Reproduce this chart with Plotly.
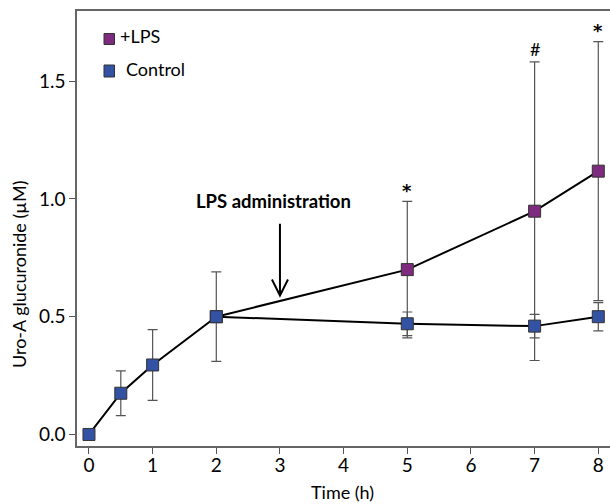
import plotly.graph_objects as go

# ---- data ----
time_ctrl = [0, 0.5, 1, 2, 5, 7, 8]
ctrl_mean = [0.0, 0.175, 0.295, 0.50, 0.47, 0.46, 0.50]
ctrl_err = [0.0, 0.095, 0.15, 0.19, 0.05, 0.05, 0.06]

time_lps = [2, 5, 7, 8]
lps_mean = [0.50, 0.70, 0.948, 1.118]
lps_err = [0.0, 0.29, 0.634, 0.55]

sig_x = [5, 7, 8]
sig_text = ["*", "#", "*"]
sig_y = [0.99, 1.582, 1.67]

x_ticks = [0, 1, 2, 3, 4, 5, 6, 7, 8]
y_ticks = [0.0, 0.5, 1.0, 1.5]

PURPLE = "#7E2A7E"
BLUE = "#3352A4"
FONT = "Lato, Open Sans, sans-serif"

W, H = 610, 504
ML, MR, MT, MB = 77, 0, 11, 58
PW, PH = W - ML - MR, H - MT - MB


def px(xp):
    return (xp - ML) / PW


def py(yp):
    return (H - MB - yp) / PH


fig = go.Figure()

fig.add_trace(go.Scatter(
    x=time_lps, y=lps_mean, mode="lines+markers", name="+LPS",
    line=dict(color="black", width=2),
    marker=dict(symbol="square", size=12, color=PURPLE,
                line=dict(color="#333333", width=1)),
    error_y=dict(type="data", array=lps_err, visible=True,
                 color="#555555", thickness=1.2, width=5),
    showlegend=False, cliponaxis=False,
))
fig.add_trace(go.Scatter(
    x=time_ctrl, y=ctrl_mean, mode="lines+markers", name="Control",
    line=dict(color="black", width=2),
    marker=dict(symbol="square", size=12, color=BLUE,
                line=dict(color="#333333", width=1)),
    error_y=dict(type="data", array=ctrl_err, visible=True,
                 color="#555555", thickness=1.2, width=5),
    showlegend=False, cliponaxis=False,
))

annotations = []
for sx, st, sy in zip(sig_x, sig_text, sig_y):
    if st == "#":
        fnt = dict(family=FONT, size=18, color="black")
        ys = 0
    else:
        fnt = dict(family="DejaVu Sans", size=18, color="black")
        ys = -2
    annotations.append(dict(
        x=sx, y=sy, text="<b>%s</b>" % st if st == "*" else st,
        showarrow=False, xref="x", yref="y",
        yanchor="bottom", yshift=ys, font=fnt,
    ))

# LPS administration label
annotations.append(dict(
    x=2.893, y=0.993, xref="x", yref="y", text="<b>LPS administration</b>",
    showarrow=False, font=dict(family=FONT, size=18.5, color="black"),
))

# y-axis title
annotations.append(dict(
    x=px(19), y=py(275), xref="paper", yref="paper",
    xanchor="center", yanchor="middle",
    text="Uro-A\u00a0glucuronide (\u00b5M)", textangle=-90, showarrow=False,
    font=dict(family=FONT, size=18, color="black"),
))

# legend texts
annotations.append(dict(
    x=px(118), y=py(36), xref="paper", yref="paper", text="+LPS",
    xanchor="left", yanchor="middle", showarrow=False,
    font=dict(family=FONT, size=18, color="black"),
))
annotations.append(dict(
    x=px(124), y=py(68.5), xref="paper", yref="paper", text="Control",
    xanchor="left", yanchor="middle", showarrow=False,
    font=dict(family=FONT, size=18, color="black"),
))

# x-axis title
annotations.append(dict(
    x=px(342), y=py(492), xref="paper", yref="paper", text="Time (h)",
    xanchor="center", yanchor="middle",
    showarrow=False, font=dict(family=FONT, size=18, color="black"),
))

shapes = [
    # arrow
    dict(type="path", xref="x", yref="y",
         path="M3,0.895 L3,0.59 M2.874,0.658 L3,0.59 L3.126,0.658",
         line=dict(color="black", width=2)),
    # legend squares
    dict(type="rect", xref="paper", yref="paper",
         x0=px(104), x1=px(114.5), y0=py(44.5), y1=py(33.5),
         fillcolor=PURPLE, line=dict(color="#333333", width=1)),
    dict(type="rect", xref="paper", yref="paper",
         x0=px(104), x1=px(114.5), y0=py(77), y1=py(65),
         fillcolor=BLUE, line=dict(color="#333333", width=1)),
]

fig.update_layout(
    width=W, height=H,
    margin=dict(l=ML, r=MR, t=MT, b=MB, autoexpand=False),
    paper_bgcolor="white", plot_bgcolor="white",
    font=dict(family=FONT, size=18, color="black"),
    annotations=annotations, shapes=shapes,
    xaxis=dict(
        range=[-0.188, 8.184], tickvals=x_ticks, automargin=False,
        showgrid=False, zeroline=False,
        showline=True, linecolor="#666666", linewidth=1.5, mirror=True,
        ticks="outside", ticklen=6, tickwidth=1.3, tickcolor="#555555",
        tickfont=dict(family=FONT, size=19, color="black"),
        ticklabelstandoff=-5,
    ),
    yaxis=dict(
        range=[-0.049, 1.798], tickvals=y_ticks, tickformat=".1f",
        automargin=False,
        showgrid=False, zeroline=False,
        showline=True, linecolor="#666666", linewidth=1.5,
        ticks="outside", ticklen=6, tickwidth=1.3, tickcolor="#555555",
        tickfont=dict(family=FONT, size=19, color="black"),
    ),
)

fig.write_html(
    "out.html",
    config={"displayModeBar": False},
    post_script="document.body.style.margin='0';document.body.style.overflow='hidden';",
)
